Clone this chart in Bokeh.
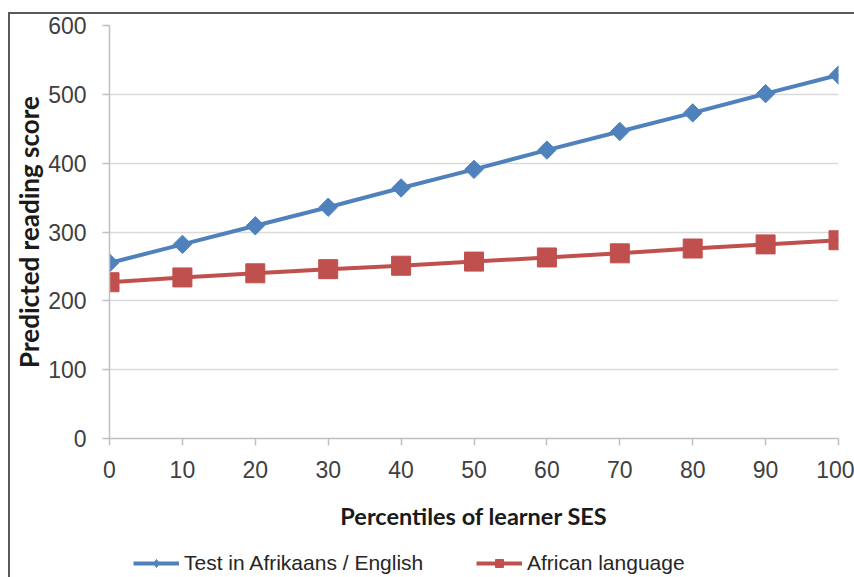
import math

from bokeh.embed import file_html
from bokeh.layouts import column
from bokeh.models import ColumnDataSource, FixedTicker, Legend, LegendItem
from bokeh.plotting import figure
from bokeh.resources import INLINE

# Percentile of learner socio-economic status
percentiles = [0, 10, 20, 30, 40, 50, 60, 70, 80, 90, 100]
# Predicted reading score, tested in Afrikaans / English
afrikaans_english = [255, 282, 309, 336, 364, 391, 419, 446, 473, 501, 528]
# Predicted reading score, tested in an African language
african_language = [227, 234, 240, 246, 251, 257, 263, 269, 276, 282, 288]

series_names = ["Test in Afrikaans / English", "African language"]
x_ticks = [0, 10, 20, 30, 40, 50, 60, 70, 80, 90, 100]
y_ticks = [0, 100, 200, 300, 400, 500, 600]

BLUE = "#4F81BD"
RED = "#C0504D"

src = ColumnDataSource(dict(x=percentiles, ae=afrikaans_english, af=african_language))

# ---- main chart ----
p = figure(
    width=844, height=534,
    x_range=(0, 100), y_range=(0, 600),
    output_backend="svg", toolbar_location=None,
    min_border_left=98, min_border_top=11, min_border_right=16, min_border_bottom=110,
)
p.outline_line_color = None
p.background_fill_color = "white"
p.border_fill_color = "white"

# grid: horizontal lines only
p.xgrid.grid_line_color = None
p.ygrid.grid_line_color = "#D9D9D9"
p.ygrid.grid_line_width = 1.5
p.ygrid.ticker = FixedTicker(ticks=y_ticks)

for ax in (p.xaxis[0], p.yaxis[0]):
    ax.axis_line_color = "#BFBFBF"
    ax.axis_line_width = 1.5
    ax.major_tick_line_color = "#BFBFBF"
    ax.major_tick_line_width = 1.5
    ax.major_tick_out = 7
    ax.major_tick_in = 0
    ax.minor_tick_line_color = None
    ax.major_label_text_font = "Liberation Sans"
    ax.major_label_text_font_size = "23px"
    ax.major_label_text_color = "#404040"
    ax.axis_label_text_font_style = "bold"
    ax.axis_label_text_color = "#1a1a1a"

p.xaxis.ticker = FixedTicker(ticks=x_ticks)
p.yaxis.ticker = FixedTicker(ticks=y_ticks)
p.xaxis.major_label_standoff = 15
p.yaxis.major_label_standoff = 16

p.yaxis.axis_label = "Predicted reading score"
p.yaxis.axis_label_standoff = 0
p.yaxis.axis_label_text_font = "Lato"
p.yaxis.axis_label_text_font_size = "26px"

p.xaxis.axis_label = "Percentiles of learner SES"
p.xaxis.axis_label_standoff = 21
p.xaxis.axis_label_text_font = "Lato"
p.xaxis.axis_label_text_font_size = "23.5px"

p.line("x", "af", source=src, line_color=RED, line_width=4)
p.scatter("x", "af", source=src, marker="square", size=19,
          fill_color=RED, line_color=RED)
p.line("x", "ae", source=src, line_color=BLUE, line_width=4)
p.scatter("x", "ae", source=src, marker="square", size=13,
          angle=math.pi / 4, fill_color=BLUE, line_color=BLUE)

# ---- legend strip (its frame lines up with the chart frame) ----
leg = figure(
    width=844, height=29, x_range=(0, 1), y_range=(0, 1),
    x_axis_type=None, y_axis_type=None,
    output_backend="svg", toolbar_location=None,
    min_border=0,
)
leg.outline_line_color = None
leg.xgrid.grid_line_color = None
leg.ygrid.grid_line_color = None

# key renderers share the series data; their values fall outside this strip's ranges
kb_line = leg.line("x", "ae", source=src, line_color=BLUE, line_width=4)
kb_mark = leg.scatter("x", "ae", source=src, marker="diamond", size=14,
                      fill_color=BLUE, line_color=BLUE)
kr_line = leg.line("x", "af", source=src, line_color=RED, line_width=4)
kr_mark = leg.scatter("x", "af", source=src, marker="square", size=12,
                      fill_color=RED, line_color=RED)

legend = Legend(
    items=[
        LegendItem(label=series_names[0], renderers=[kb_line, kb_mark], index=0),
        LegendItem(label=series_names[1], renderers=[kr_line, kr_mark], index=0),
    ],
    location="center_left", margin=24,
    orientation="horizontal",
    glyph_width=46, glyph_height=20, label_standoff=5, label_width=279, spacing=13,
    label_text_font="Liberation Sans", label_text_font_size="21px",
    label_text_color="#262626",
    padding=0, border_line_color=None,
    background_fill_alpha=0,
)
leg.add_layout(legend, "center")

layout = column(
    p, leg, spacing=0,
    margin=(12, 0, 0, 8),
    styles={"border-top": "2px solid #5a5a5a", "border-left": "2px solid #5a5a5a"},
)

open("out.html", "w").write(file_html(layout, INLINE))
